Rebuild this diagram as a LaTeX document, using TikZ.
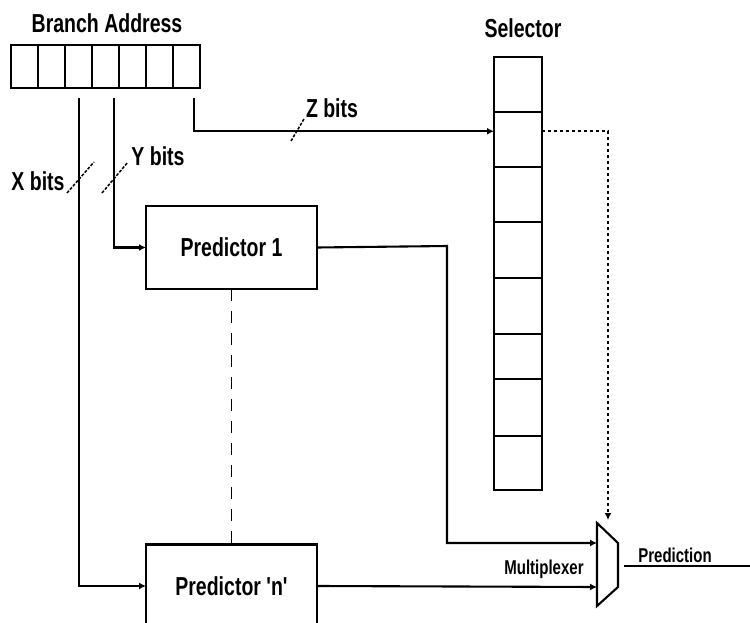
\documentclass[tikz,border=0pt]{standalone}
\usepackage{fontspec}
\newfontfamily\condfont[FakeStretch=0.75]{Liberation Sans}
\usetikzlibrary{calc,arrows.meta,positioning}
\tikzset{
  lbl/.style     ={font=\condfont\bfseries\fontsize{26}{28}\selectfont, inner sep=0pt},
  smalllbl/.style={font=\condfont\bfseries\fontsize{20}{22}\selectfont, inner sep=0pt},
  regcell/.style ={draw, line width=2.1pt, minimum width=27pt, minimum height=43pt,
                   inner sep=0pt, outer sep=0pt},
  selcell/.style ={draw, line width=2.1pt, minimum width=48pt, inner sep=0pt, outer sep=0pt},
  predbox/.style ={draw, line width=2.1pt, minimum width=171pt, minimum height=83pt,
                   inner sep=0pt, outer sep=0pt, lbl},
  wire/.style    ={line width=2.1pt},
  arr/.style     ={wire, -{Latex[length=7pt,width=7pt]}},
  busmark/.style ={line width=1.5pt, dash pattern=on 3pt off 1.5pt},
  sellink/.style ={line width=1.8pt, dash pattern=on 3pt off 3pt, -{Latex[length=7pt,width=7pt]}},
  stack/.style   ={line width=1.8pt, dash pattern=on 12pt off 10pt},
}

\begin{document}
\begin{tikzpicture}[x=1pt, y=-1pt]
  \useasboundingbox (0,0) rectangle (750,623);
  \clip (0,0) rectangle (750,623);

  % --- branch address register ---------------------------------------------
  \node[lbl, anchor=base] (batitle) at (107,33) {Branch Address};
  \foreach \i in {1,...,7}
    \node[regcell] (ba\i) at ({11+27*\i-13.5},66.5) {};

  % --- selector table -------------------------------------------------------
  \node[lbl, anchor=base] (seltitle) at (523,38) {Selector};
  \foreach \t/\b [count=\i] in {57/112,112/167,167/222,222/278,278/334,334/379,379/436,436/490}
    \node[selcell, minimum height={\b-\t}] (sel\i) at (518,{(\t+\b)/2}) {};

  % --- predictors -----------------------------------------------------------
  \node[predbox] (p1) at (231.5,247.5) {Predictor 1};
  \node[predbox] (pn) at (231.5,586) {Predictor 'n'};
  \draw[stack] (p1.south) -- (pn.north);

  % --- multiplexer ----------------------------------------------------------
  \coordinate (mxtl) at (597,523);
  \coordinate (mxtr) at (618,543);
  \coordinate (mxbr) at (618,587);
  \coordinate (mxbl) at (597,606);
  \coordinate (mxa)  at (597,543);
  \coordinate (mxb)  at (597,587);
  \coordinate (mxs)  at (608,520);
  \coordinate (mxout) at (624,566);
  \draw[wire, line join=miter] (mxtl) -- (mxtr) -- (mxbr) -- (mxbl) -- cycle;
  \node[smalllbl, anchor=base] (mxlbl) at (544,574) {Multiplexer};

  % --- address bits into the tables ----------------------------------------
  \coordinate (xs) at (79,98);
  \coordinate (ys) at (114,98);
  \coordinate (zs) at (194,98);
  \draw[arr] (xs) |- (pn.west);
  \draw[arr] (ys) |- (p1.west);
  \draw[arr] (zs) |- ($(sel2.north west)!0.35!(sel2.south west)$);
  \draw[busmark] (67,193) -- (94,162);
  \draw[busmark] (102,193) -- (128,162);
  \draw[busmark] (291,141) -- (304,119);
  \node[lbl, anchor=base] (xlbl) at (38,190) {X bits};
  \node[lbl, anchor=base] (ylbl) at (158,165) {Y bits};
  \node[lbl, anchor=base] (zlbl) at (332,118) {Z bits};

  % --- predictions into the multiplexer ------------------------------------
  \draw[arr] (p1.east) -- (447,246) |- (mxa);
  \draw[arr] (pn.east) -- (mxb);
  \draw[sellink] ($(sel2.north east)!0.35!(sel2.south east)$) -| (mxs);

  % --- output ---------------------------------------------------------------
  \draw[arr] (mxout) -- (757,566);
  \node[smalllbl, anchor=base] (predlbl) at (675,562) {Prediction};
\end{tikzpicture}
\end{document}
